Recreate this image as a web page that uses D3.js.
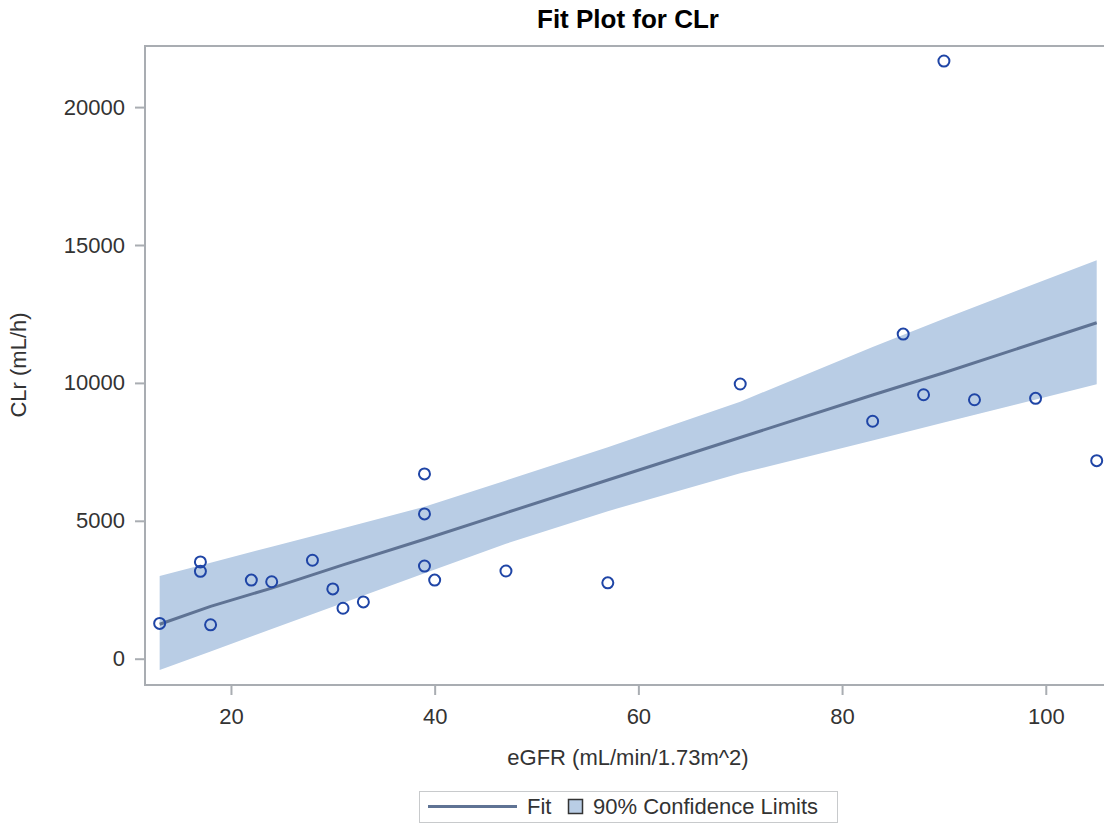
<!DOCTYPE html>
<html>
<head>
<meta charset="utf-8">
<script src="https://cdn.jsdelivr.net/npm/d3@7"></script>
<style>
  body { margin: 0; background: #fff; }
  text { font-family: "Liberation Sans", Arial, sans-serif; }
</style>
</head>
<body>
<div id="chart"></div>
<script>
// observed data
const egfr = [13, 17, 17, 18, 22, 24, 28, 30, 31, 33, 39, 39, 39, 40, 47, 57, 70, 83, 86, 88, 90, 93, 99, 105];
const clr = [1280, 3510, 3170, 1230, 2850, 2790, 3570, 2530, 1830, 2060, 6700, 5250, 3360, 2850, 3180, 2750,
    9960, 8610, 11770, 9570, 21670, 9390, 9440, 7180];

// fit line and 90% confidence limits
const fitX = [13, 18, 24, 31, 39, 47, 57, 70, 83, 90, 105];
const fitY = [1250, 1900, 2560, 3400, 4330, 5290, 6480, 8020, 9560, 10370, 12180];
const lowerCL = [-410, 265, 1075, 2020, 3100, 4170, 5350, 6720, 7915, 8560, 9950];
const upperCL = [3000, 3480, 4060, 4730, 5510, 6465, 7670, 9320, 11300, 12330, 14450];

const xTicks = [20, 40, 60, 80, 100];
const yTicks = [0, 5000, 10000, 15000, 20000];

const W = 1104, H = 823;
const margin = { top: 46, left: 145, bottom: 685, right: 1113 };

const svg = d3.select("#chart").append("svg")
    .attr("width", W)
    .attr("height", H);

const x = d3.scaleLinear().domain([11.56, 106.6]).range([margin.left, margin.right]);
const y = d3.scaleLinear().domain([-953, 22215]).range([margin.bottom, margin.top]);

// title
svg.append("text")
    .attr("x", 628).attr("y", 28)
    .attr("text-anchor", "middle")
    .style("font-size", "26px").style("font-weight", "bold")
    .style("fill", "#000")
    .text("Fit Plot for CLr");

// confidence band
const bandData = fitX.map((v, i) => ({ x: v, lo: lowerCL[i], hi: upperCL[i], fit: fitY[i] }));
svg.append("path")
    .datum(bandData)
    .attr("fill", "#b9cde5")
    .attr("d", d3.area().x(d => x(d.x)).y0(d => y(d.lo)).y1(d => y(d.hi)));

// fit line
svg.append("path")
    .datum(bandData)
    .attr("fill", "none")
    .attr("stroke", "#5f7394")
    .attr("stroke-width", 3)
    .attr("d", d3.line().x(d => x(d.x)).y(d => y(d.fit)));

// points
svg.append("g").selectAll("circle")
    .data(egfr)
    .enter().append("circle")
    .attr("cx", d => x(d))
    .attr("cy", (d, i) => y(clr[i]))
    .attr("r", 5.5)
    .attr("fill", "none")
    .attr("stroke", "#1f45a6")
    .attr("stroke-width", 2);

// frame
svg.append("rect")
    .attr("x", margin.left).attr("y", margin.top)
    .attr("width", margin.right - margin.left)
    .attr("height", margin.bottom - margin.top)
    .attr("fill", "none")
    .attr("stroke", "#a9adb2")
    .attr("stroke-width", 2);

// axes
const xAxis = svg.append("g")
    .attr("transform", `translate(0,${margin.bottom})`)
    .call(d3.axisBottom(x).tickValues(xTicks).tickSize(10).tickPadding(13));
const yAxis = svg.append("g")
    .attr("transform", `translate(${margin.left},0)`)
    .call(d3.axisLeft(y).tickValues(yTicks).tickSize(10).tickPadding(10).tickFormat(d3.format("d")));

[xAxis, yAxis].forEach(a => {
    a.select(".domain").remove();
    a.selectAll(".tick line").attr("stroke", "#a9adb2").attr("stroke-width", 2);
    a.selectAll(".tick text")
        .style("font-size", "22px")
        .style("font-family", '"Liberation Sans", Arial, sans-serif')
        .attr("fill", "#333");
});

// axis labels
svg.append("text")
    .attr("x", 628).attr("y", 765)
    .attr("text-anchor", "middle")
    .style("font-size", "22px").style("fill", "#333")
    .text("eGFR (mL/min/1.73m^2)");

svg.append("text")
    .attr("transform", "translate(26,365) rotate(-90)")
    .attr("text-anchor", "middle")
    .style("font-size", "22px").style("fill", "#333")
    .text("CLr (mL/h)");

// legend
const legend = svg.append("g");
legend.append("rect")
    .attr("x", 419.5).attr("y", 791.5)
    .attr("width", 418).attr("height", 31)
    .attr("fill", "#fff")
    .attr("stroke", "#c8cacc");
legend.append("line")
    .attr("x1", 428).attr("x2", 517)
    .attr("y1", 806.5).attr("y2", 806.5)
    .attr("stroke", "#5f7394").attr("stroke-width", 3);
legend.append("text")
    .attr("x", 527).attr("y", 814)
    .style("font-size", "22px").style("fill", "#333")
    .text("Fit");
legend.append("rect")
    .attr("x", 568.5).attr("y", 799.5)
    .attr("width", 14).attr("height", 14)
    .attr("fill", "#b9cde5")
    .attr("stroke", "#333").attr("stroke-width", 1.5);
legend.append("text")
    .attr("x", 593).attr("y", 814)
    .style("font-size", "22px").style("fill", "#333")
    .text("90% Confidence Limits");
</script>
</body>
</html>
